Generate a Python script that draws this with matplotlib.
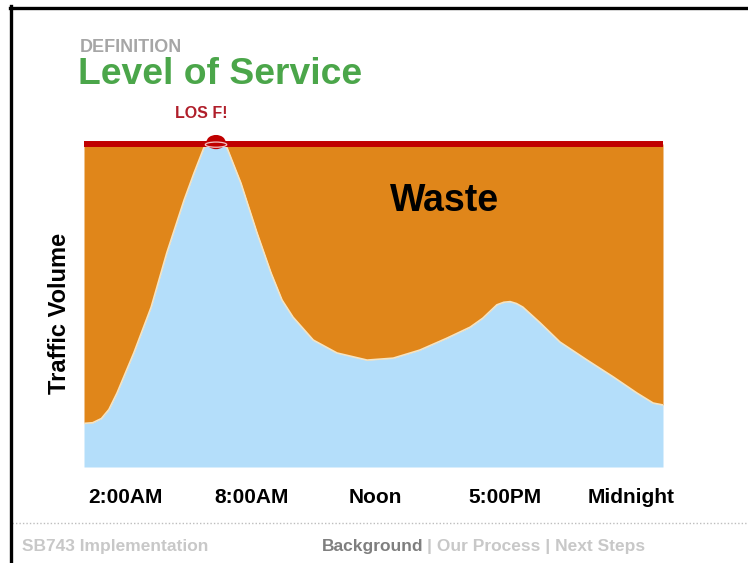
"""Level of Service slide: traffic volume vs. capacity."""

import matplotlib.pyplot as plt
from matplotlib.lines import Line2D
from matplotlib.patches import Ellipse

plt.rcParams["font.family"] = ["Liberation Sans", "DejaVu Sans"]

W, H = 748, 563

# traffic volume (x: 0-100 across the day, volume: 0-100 = capacity)
day_pos = [0, 1.5, 3.0, 4.3, 5.7, 8.6, 11.6, 14.3, 17.3, 19.0, 20.7, 21.7, 22.8, 23.8,
           24.7, 27.1, 29.9, 32.3, 34.2, 36.1, 39.6, 43.7, 48.9, 53.4, 58.0, 62.7, 66.7,
           68.9, 71.3, 72.5, 73.6, 74.7, 75.8, 78.8, 82.2, 86.9, 91.4, 95.5, 98.3, 100]
volume = [13.5, 13.7, 15.0, 17.8, 22.9, 35.3, 49.5, 66.3, 82.7, 91.0, 98.8, 100.4, 101.0,
          100.4, 98.8, 87.9, 72.4, 60.1, 51.7, 46.4, 39.3, 35.3, 33.1, 33.7, 36.2, 39.9,
          43.3, 46.1, 50.2, 51.0, 51.2, 50.6, 49.5, 44.6, 38.7, 33.1, 27.9, 22.9, 19.8, 19.2]
capacity = 100

tick_pos = [7.1, 29.0, 50.3, 72.7, 94.5]
tick_labels = ["2:00AM", "8:00AM", "Noon", "5:00PM", "Midnight"]

ORANGE = "#E0861A"
BLUE = "#B4DEFA"
RED = "#C00000"
LIGHT_GRAY = "#C8C8C8"


def fx(px):
    return px / W


def fy(py):
    return 1 - py / H


fig = plt.figure(figsize=(W / 100, H / 100), dpi=100)
ax = fig.add_axes([fx(84), fy(467), 579 / W, 323 / H])

ax.fill_between(day_pos, volume, capacity, color=ORANGE, lw=0, zorder=1)
ax.fill_between(day_pos, 0, volume, color=BLUE, lw=0, zorder=1)
ax.plot(day_pos, volume, color="#F4E4C4", lw=1.2, zorder=2, solid_joinstyle="round")
ax.axhline(capacity, color=RED, lw=4.3, zorder=3, clip_on=False, solid_capstyle="butt")

# LOS F bump at the peak
peak = max(range(len(volume)), key=lambda i: volume[i])
ax.add_patch(Ellipse((day_pos[peak], capacity + 0.6), 3.3, 4.4, facecolor=RED,
                     lw=0, zorder=2.5, clip_on=False))
ax.add_patch(Ellipse((day_pos[peak], capacity - 0.2), 3.7, 1.6, facecolor="none",
                     edgecolor="#F4C4C4", lw=0.9, zorder=4, clip_on=False))

ax.set_xlim(0, 100)
ax.set_ylim(0, capacity)
ax.set_yticks([])
ax.set_xticks(tick_pos, tick_labels, fontsize=15, fontweight="bold")
ax.tick_params(axis="x", length=0, pad=15)
for s in ax.spines.values():
    s.set_visible(False)

ax.text(20.2, 109.5, "LOS F!", color="#B01E2A", fontsize=11.5,
        fontweight="bold", ha="center", va="center")
ax.text(62.2, 82.4, "Waste", fontsize=27, fontweight="bold", ha="center", va="center")

fig.text(fx(60), fy(313), "Traffic Volume", rotation=90, fontsize=17, fontweight="bold",
         ha="center", va="center")

fig.text(fx(80), fy(52), "DEFINITION", color="#A6A6A6", fontsize=13, fontweight="bold",
         ha="left", va="baseline")
fig.text(fx(78), fy(84), "Level of Service", color="#4BA64A", fontsize=26.8,
         fontweight="bold", ha="left", va="baseline")

# footer
fig.add_artist(Line2D([fx(12), 1], [fy(523), fy(523)], color="#BDBDBD", lw=1,
                      linestyle=(0, (1, 1.5))))
fig.text(fx(22), fy(547), "SB743 Implementation", color=LIGHT_GRAY, fontsize=12.5,
         fontweight="bold", ha="left", va="center")
fig.text(fx(322), fy(547), "Background", color="#7F7F7F", fontsize=12.5,
         fontweight="bold", ha="left", va="center")
fig.text(fx(427), fy(547), "| Our Process | Next Steps", color=LIGHT_GRAY, fontsize=12.5,
         fontweight="bold", ha="left", va="center")

# slide frame
fig.add_artist(Line2D([fx(11), fx(11)], [fy(6), 0], color="black", lw=2.4))
fig.add_artist(Line2D([fx(10), 1], [fy(7.5), fy(7.5)], color="black", lw=2.4))

fig.savefig("out.png", dpi=100)
